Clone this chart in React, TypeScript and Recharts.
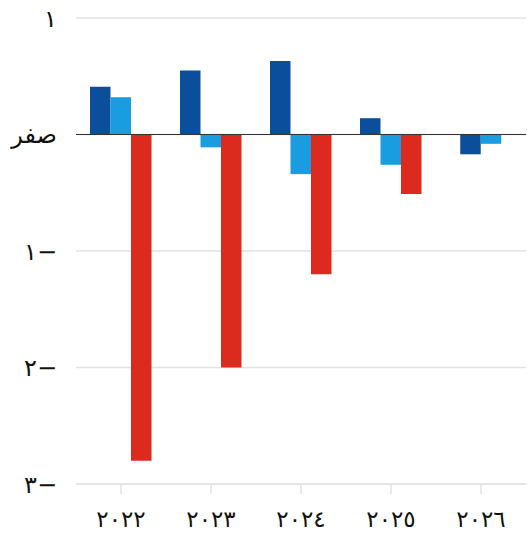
import React from 'react';
import {
  BarChart,
  Bar,
  XAxis,
  YAxis,
  CartesianGrid,
  ReferenceLine,
  Rectangle
} from 'recharts';

const years = ['٢٠٢٢', '٢٠٢٣', '٢٠٢٤', '٢٠٢٥', '٢٠٢٦'];
const darkBlue = [0.41, 0.55, 0.63, 0.14, -0.17];
const lightBlue = [0.32, -0.11, -0.34, -0.26, -0.08];
const red: (number | null)[] = [-2.8, -2.0, -1.2, -0.51, null];

const yTicks = [-3, -2, -1, 0, 1];
const yTickLabels = ['٣−', '٢−', '١−', 'صفر', '١'];

const chartData = years.map((year, i) => ({
  year,
  dark: darkBlue[i],
  light: lightBlue[i],
  red: red[i]
}));

const BAR_SIZE = 20.5;
const FONT = '"DejaVu Serif", "DejaVu Sans", serif';

// when a year has no red bar, the two remaining bars sit centred on the tick
const shiftedShape = (props: any) => {
  const shift = props.payload && props.payload.red == null ? BAR_SIZE / 2 : 0;
  return <Rectangle {...props} x={props.x + shift} />;
};

const App: React.FC = () => {
  return (
    <div style={{ position: 'absolute', left: 0, top: 0, background: '#fff' }}>
      <BarChart
        width={527}
        height={542}
        data={chartData}
        margin={{ top: 18, right: 1, left: 0, bottom: 0 }}
        barSize={BAR_SIZE}
        barGap={0}
      >
        <CartesianGrid vertical={false} stroke="#e2e2e2" strokeWidth={1.5} />
        <XAxis
          dataKey="year"
          height={58}
          axisLine={{ stroke: '#e2e2e2', strokeWidth: 1.5 }}
          tickLine={{ stroke: '#e2e2e2', strokeWidth: 1.5 }}
          tickSize={10}
          tickMargin={17}
          tick={{ fill: '#111', fontSize: 23, fontFamily: FONT, letterSpacing: 2 }}
        />
        <YAxis
          width={76}
          domain={[-3, 1]}
          ticks={yTicks}
          interval={0}
          axisLine={false}
          tickLine={false}
          tickSize={0}
          tickMargin={19}
          tickFormatter={(v: number) => yTickLabels[yTicks.indexOf(v)]}
          tick={{ fill: '#111', fontSize: 24, fontFamily: FONT }}
        />
        <ReferenceLine y={0} stroke="#333" strokeWidth={1.2} />
        <Bar dataKey="dark" fill="#0b4f9c" shape={shiftedShape} isAnimationActive={false} />
        <Bar dataKey="light" fill="#1a9de0" shape={shiftedShape} isAnimationActive={false} />
        <Bar dataKey="red" fill="#dc2a1f" isAnimationActive={false} />
      </BarChart>
    </div>
  );
};

export default App;
